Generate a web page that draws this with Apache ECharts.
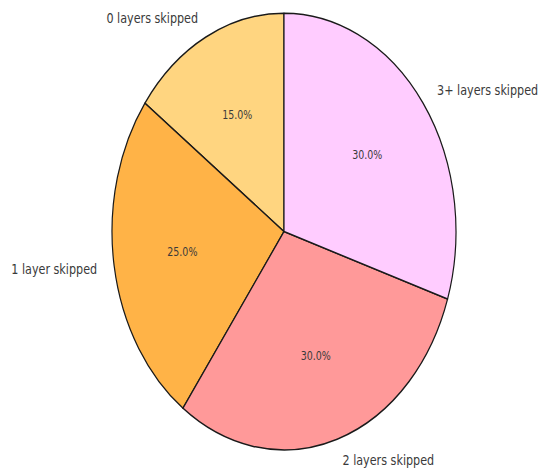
<!DOCTYPE html>
<html>
<head>
<meta charset="utf-8">
<script src="https://cdn.jsdelivr.net/npm/echarts@6/dist/echarts.min.js"></script>
<style>
  html, body { margin: 0; padding: 0; background: #fff; width: 539px; height: 471px; }
  #frame { position: relative; width: 539px; height: 471px; }
  /* the figure is drawn on a shorter canvas and stretched vertically,
     which gives the pie its tall elliptical shape */
  #chart { position: absolute; left: 0; top: 0; width: 539px; height: 371px;
           transform: scaleY(1.2695); transform-origin: 0 0; }
</style>
</head>
<body>
<div id="frame"><div id="chart"></div></div>
<script>
const categories = ['0 layers skipped', '1 layer skipped', '2 layers skipped', '3+ layers skipped'];
const shares = [15, 25, 30, 30];
const colors = ['#FFD580', '#FFB347', '#FF9999', '#FFCCFF'];

const R = 172;
const center = [284, 182.4];

const chart = echarts.init(document.getElementById('chart'), null, { renderer: 'svg' });

const slices = categories.map((name, i) => ({
  name,
  value: shares[i],
  itemStyle: { color: colors[i] }
}));

chart.setOption({
  animation: false,
  series: [
    {
      type: 'pie',
      center,
      radius: [0, R],
      startAngle: 90,
      clockwise: false,
      avoidLabelOverlap: false,
      silent: true,
      itemStyle: { borderColor: '#1a1a1a', borderWidth: 1.2 },
      label: {
        show: true,
        position: 'outside',
        alignTo: 'none',
        distanceToLabelLine: 0,
        formatter: '{b}',
        fontFamily: 'DejaVu Sans',
        fontSize: 11.2,
        color: '#3a3a3a'
      },
      labelLine: { show: false, length: R * 0.1, length2: 0 },
      data: slices
    },
    {
      // transparent copy of the pie that carries the percentage labels
      type: 'pie',
      center,
      radius: [0, R * 1.162],
      startAngle: 90,
      clockwise: false,
      silent: true,
      itemStyle: { color: 'rgba(0,0,0,0)', borderWidth: 0 },
      label: {
        show: true,
        position: 'inside',
        formatter: p => p.percent.toFixed(1) + '%',
        fontFamily: 'DejaVu Sans',
        fontSize: 9.5,
        color: '#3a3a3a'
      },
      labelLine: { show: false },
      data: categories.map((name, i) => ({ name, value: shares[i] }))
    }
  ]
});
</script>
</body>
</html>
